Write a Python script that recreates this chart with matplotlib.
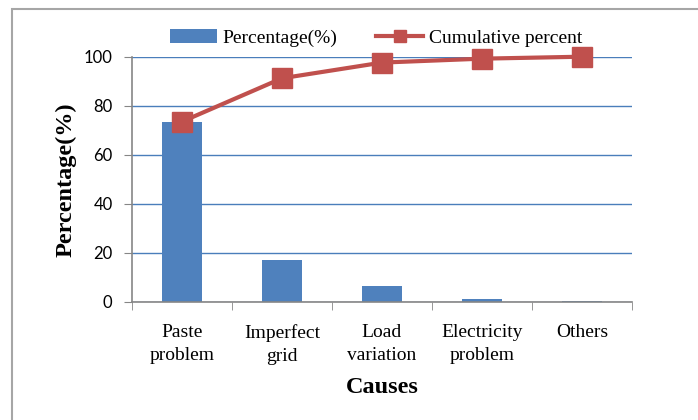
import numpy as np
import matplotlib.pyplot as plt
from matplotlib.patches import Rectangle

causes = ['Paste\nproblem', 'Imperfect\ngrid', 'Load\nvariation', 'Electricity\nproblem', 'Others']
percentage = [73.3, 17.2, 6.3, 1.2, 0.3]
cumulative = [73.5, 91.2, 97.6, 99.2, 100.0]
y_ticks = [0, 20, 40, 60, 80, 100]

bar_color = '#4f81bd'
line_color = '#c0504d'
serif = ['Liberation Serif', 'DejaVu Serif']

fig = plt.figure(figsize=(6.98, 4.2), dpi=100)
ax = fig.add_axes([132 / 698, 1 - 301.7 / 420, 500 / 698, 245 / 420])

# outer frame around the whole chart
fig.patches.append(Rectangle((12 / 698, -0.1), 1.2, 0.1 + 1 - 9 / 420,
                             transform=fig.transFigure, fill=False,
                             edgecolor='#a6a6a6', lw=1.5))

x = np.arange(len(causes))
bars = ax.bar(x, percentage, width=0.4, color=bar_color, zorder=2,
              label='Percentage(%)')
line, = ax.plot(x, cumulative, color=line_color, lw=3, marker='s',
                markersize=14, zorder=3, clip_on=False,
                label='Cumulative percent')

ax.set_xlim(-0.5, len(causes) - 0.5)
ax.set_ylim(0, 100)
ax.set_yticks(y_ticks)
ax.set_yticklabels([str(v) for v in y_ticks], family=['Lato', 'DejaVu Sans'], fontsize=12)
ax.set_xticks(x)
ax.set_xticklabels(causes, family=serif, fontsize=14, linespacing=1.45)
ax.set_xticks(np.arange(-0.5, len(causes)), minor=True)
ax.tick_params(axis='x', which='major', length=0, pad=16)
ax.tick_params(axis='x', which='minor', length=6, color='#868686', direction='out')
ax.tick_params(axis='y', length=6, color='#868686', direction='out', pad=8)

ax.grid(axis='y', color='#4a7ebb', lw=1, zorder=0)
for s in ['top', 'right']:
    ax.spines[s].set_visible(False)
for s in ['left', 'bottom']:
    ax.spines[s].set_color('#868686')
    ax.spines[s].set_linewidth(1.2)

ax.set_ylabel('Percentage(%)', family=serif, fontsize=17.5, fontweight='bold', labelpad=5)
ax.set_xlabel('Causes', family=serif, fontsize=17.5, fontweight='bold', labelpad=9)

fig.legend(handles=[bars, line], loc='center', bbox_to_anchor=(376 / 698, 1 - 38 / 420),
           ncol=2, frameon=False, prop={'family': serif, 'size': 14},
           handlelength=2.4, handletextpad=0.3, columnspacing=2.0, markerscale=0.6)

fig.savefig('out.png', dpi=100)
